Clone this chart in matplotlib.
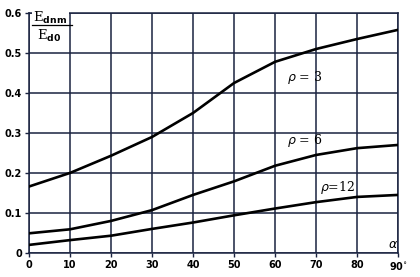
import matplotlib.pyplot as plt

alpha = [0, 10, 20, 30, 40, 50, 60, 70, 80, 90]
rho3 = [0.166, 0.200, 0.243, 0.290, 0.350, 0.425, 0.478, 0.510, 0.535, 0.558]
rho6 = [0.049, 0.059, 0.080, 0.107, 0.145, 0.179, 0.218, 0.245, 0.262, 0.270]
rho12 = [0.020, 0.032, 0.043, 0.060, 0.076, 0.094, 0.111, 0.127, 0.140, 0.145]

xticklabels = ['0', '10', '20', '30', '40', '50', '60', '70', '80', '90$^{\\circ}$']
yticks = [0, 0.1, 0.2, 0.3, 0.4, 0.5, 0.6]
yticklabels = ['0', '0.1', '0.2', '0.3', '0.4', '0.5', '0.6']

fig = plt.figure(figsize=(4.2, 2.77), dpi=100)
ax = fig.add_axes([0.069, 0.087, 0.879, 0.866])

for s in [rho3, rho6, rho12]:
    ax.plot(alpha, s, color='black', lw=1.9, zorder=3)

ax.set_xlim(0, 90)
ax.set_ylim(0, 0.6)
ax.set_xticks(alpha)
ax.set_xticklabels(xticklabels, fontsize=7, fontweight='bold')
ax.set_yticks(yticks)
ax.set_yticklabels(yticklabels, fontsize=7, fontweight='bold')
ax.tick_params(length=3, width=1, pad=2, color='#1a2340')
ax.grid(True, color='#1a2340', lw=1.1)
for sp in ax.spines.values():
    sp.set_color('#1a2340')
    sp.set_linewidth(1.1)

ax.text(63.0, 0.43, r'$\rho$ = 3', fontsize=9, family='DejaVu Serif', zorder=4)
ax.text(63.0, 0.272, r'$\rho$ = 6', fontsize=9, family='DejaVu Serif', zorder=4)
ax.text(71.0, 0.155, r'$\rho$=12', fontsize=9, family='DejaVu Serif', zorder=4)
ax.text(87.6, 0.012, r'$\alpha$', fontsize=9, zorder=4)

ax.text(1.0, 0.588, r'E$_{\mathbf{dnm}}$', fontsize=9.5, family='DejaVu Serif',
        va='center', ha='left', zorder=5,
        bbox=dict(facecolor='white', edgecolor='none', pad=1))
ax.plot([0.8, 10.5], [0.571, 0.571], color='black', lw=0.9, zorder=6)
ax.text(2.0, 0.543, r'E$_{\mathbf{d0}}$', fontsize=9.5, family='DejaVu Serif',
        va='center', ha='left', zorder=5,
        bbox=dict(facecolor='white', edgecolor='none', pad=1))

fig.savefig('out.png', dpi=100)
